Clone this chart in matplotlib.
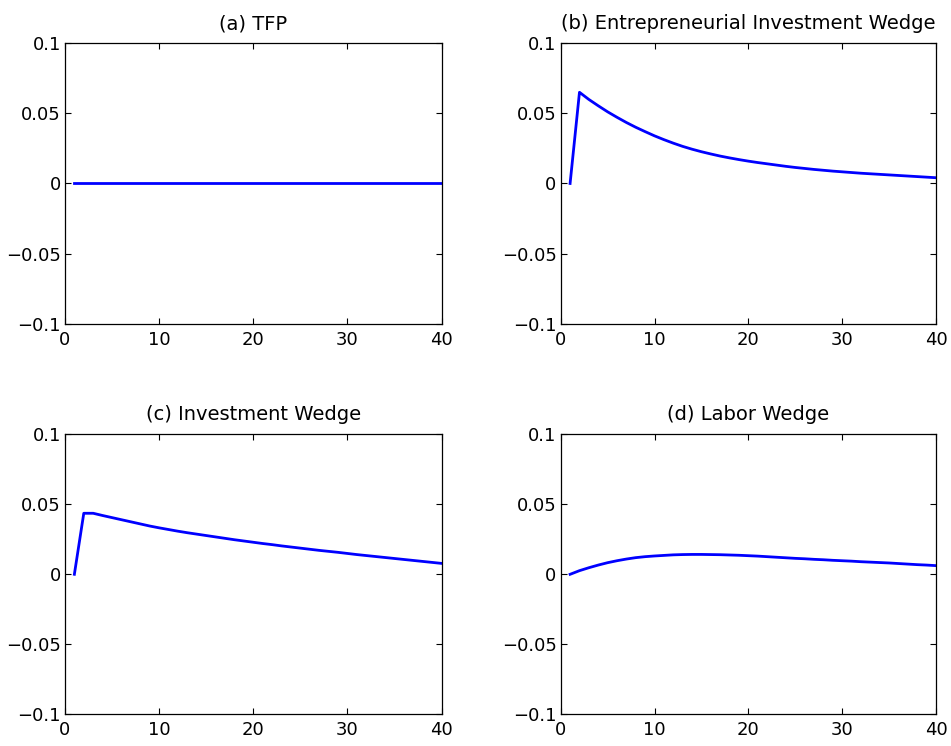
import matplotlib
matplotlib.use("Agg")
import matplotlib.pyplot as plt

# time periods
periods = list(range(1, 41))

# impulse responses
tfp = [0.0] * 40

entre_wedge = [0.0, 0.0649, 0.0598, 0.0553, 0.0510, 0.0471, 0.0434, 0.0400, 0.0369, 0.0339,
               0.0312, 0.0287, 0.0264, 0.0244, 0.0226, 0.0210, 0.0195, 0.0182, 0.0170, 0.0159,
               0.0149, 0.0140, 0.0131, 0.0122, 0.0114, 0.0107, 0.0100, 0.0094, 0.0088, 0.0083,
               0.0078, 0.0073, 0.0069, 0.0065, 0.0061, 0.0057, 0.0053, 0.0049, 0.0045, 0.0041]

inv_wedge = [0.0, 0.0436, 0.0436, 0.0420, 0.0405, 0.0390, 0.0375, 0.0360, 0.0345, 0.0332,
             0.0320, 0.0308, 0.0297, 0.0287, 0.0277, 0.0267, 0.0257, 0.0247, 0.0238, 0.0229,
             0.0220, 0.0212, 0.0203, 0.0195, 0.0187, 0.0179, 0.0171, 0.0164, 0.0157, 0.0149,
             0.0141, 0.0134, 0.0127, 0.0120, 0.0113, 0.0106, 0.0099, 0.0092, 0.0085, 0.0078]

labor_wedge = [0.0, 0.0026, 0.0047, 0.0066, 0.0083, 0.0097, 0.0109, 0.0119, 0.0126, 0.0131,
               0.0135, 0.0139, 0.0141, 0.0142, 0.0142, 0.0141, 0.0140, 0.0138, 0.0136, 0.0133,
               0.0130, 0.0126, 0.0122, 0.0118, 0.0114, 0.0111, 0.0107, 0.0104, 0.0100, 0.0097,
               0.0094, 0.0090, 0.0087, 0.0084, 0.0081, 0.0077, 0.0073, 0.0069, 0.0066, 0.0062]

titles = ['(a) TFP', '(b) Entrepreneurial Investment Wedge',
          '(c) Investment Wedge', '(d) Labor Wedge']
series = [tfp, entre_wedge, inv_wedge, labor_wedge]

xticks = [0, 10, 20, 30, 40]
yticks = [-0.1, -0.05, 0, 0.05, 0.1]
ytick_labels = ['\u22120.1', '\u22120.05', '0', '0.05', '0.1']

plt.rcParams['font.family'] = ['DejaVu Sans']
plt.rcParams['font.size'] = 13

fig = plt.figure(figsize=(9.51, 7.46), dpi=100)

# axes boxes [left, bottom, width, height] in figure fractions
boxes = [[0.0683, 0.5657, 0.3960, 0.3767],
         [0.5896, 0.5657, 0.3946, 0.3767],
         [0.0683, 0.0425, 0.3960, 0.3753],
         [0.5896, 0.0425, 0.3946, 0.3753]]

for box, title, y in zip(boxes, titles, series):
    ax = fig.add_axes(box)
    ax.plot(periods, y, color='#0000ff', linewidth=2.0)
    ax.set_xlim(0, 40)
    ax.set_ylim(-0.1, 0.1)
    ax.set_xticks(xticks)
    ax.set_yticks(yticks)
    ax.set_yticklabels(ytick_labels)
    ax.set_title(title, fontsize=14, pad=10)
    ax.tick_params(direction='in', top=True, right=True, length=4, width=0.8,
                   labelsize=13)
    ax.tick_params(axis='x', pad=5)
    ax.tick_params(axis='y', pad=3)
    for s in ax.spines.values():
        s.set_linewidth(0.9)

fig.savefig('out.png', dpi=100)
